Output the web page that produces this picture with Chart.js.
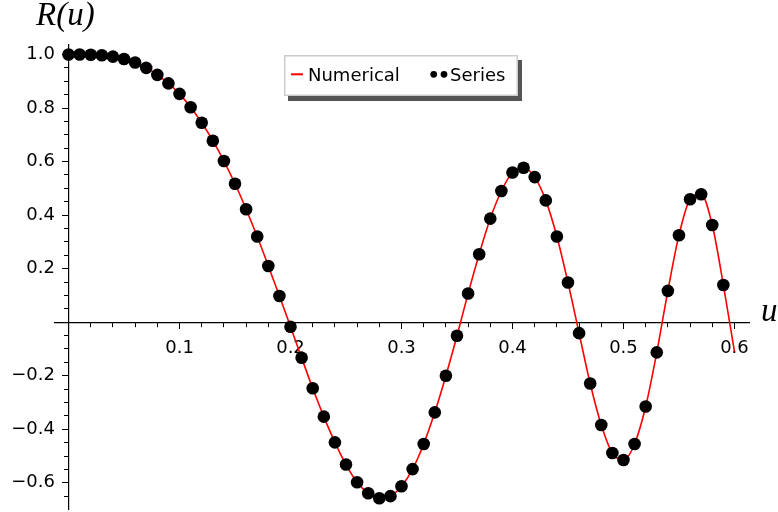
<!DOCTYPE html>
<html>
<head>
<meta charset="utf-8">
<script src="https://cdn.jsdelivr.net/npm/chart.js@4.4.0/dist/chart.umd.min.js"></script>
<style>
  html, body { margin: 0; padding: 0; background: #ffffff; overflow: hidden; }
  canvas { display: block; }
</style>
</head>
<body>
<canvas id="c" width="778" height="512"></canvas>
<script>
// ---- data ----
const seriesU = [0.00, 0.01, 0.02, 0.03, 0.04, 0.05, 0.06, 0.07, 0.08, 0.09,
                 0.10, 0.11, 0.12, 0.13, 0.14, 0.15, 0.16, 0.17, 0.18, 0.19,
                 0.20, 0.21, 0.22, 0.23, 0.24, 0.25, 0.26, 0.27, 0.28, 0.29,
                 0.30, 0.31, 0.32, 0.33, 0.34, 0.35, 0.36, 0.37, 0.38, 0.39,
                 0.40, 0.41, 0.42, 0.43, 0.44, 0.45, 0.46, 0.47, 0.48, 0.49,
                 0.50, 0.51, 0.52, 0.53, 0.54, 0.55, 0.56, 0.57, 0.58, 0.59];
const seriesR = [1.000, 1.000, 0.999, 0.997, 0.992, 0.983, 0.970, 0.950, 0.924, 0.892,
                 0.853, 0.803, 0.745, 0.678, 0.602, 0.517, 0.422, 0.320, 0.210, 0.098,
                 -0.017, -0.133, -0.247, -0.353, -0.449, -0.532, -0.598, -0.639, -0.658, -0.650,
                 -0.613, -0.549, -0.455, -0.337, -0.200, -0.051, 0.107, 0.254, 0.387, 0.490,
                 0.559, 0.577, 0.542, 0.455, 0.320, 0.148, -0.041, -0.229, -0.384, -0.489,
                 -0.515, -0.455, -0.315, -0.113, 0.117, 0.325, 0.459, 0.478, 0.363, 0.139];
const numericalU = [0.00, 0.01, 0.02, 0.03, 0.04, 0.05, 0.06, 0.07, 0.08, 0.09,
                    0.10, 0.11, 0.12, 0.13, 0.14, 0.15, 0.16, 0.17, 0.18, 0.19,
                    0.20, 0.21, 0.22, 0.23, 0.24, 0.25, 0.26, 0.27, 0.28, 0.29,
                    0.30, 0.31, 0.32, 0.33, 0.34, 0.35, 0.36, 0.37, 0.38, 0.39,
                    0.40, 0.41, 0.42, 0.43, 0.44, 0.45, 0.46, 0.47, 0.48, 0.49,
                    0.50, 0.51, 0.52, 0.53, 0.54, 0.55, 0.56, 0.57, 0.58, 0.59, 0.60];
const numericalR = [1.000, 1.000, 0.999, 0.997, 0.992, 0.983, 0.970, 0.950, 0.924, 0.892,
                    0.853, 0.803, 0.745, 0.678, 0.602, 0.517, 0.422, 0.320, 0.210, 0.098,
                    -0.017, -0.133, -0.247, -0.353, -0.449, -0.532, -0.598, -0.639, -0.658, -0.650,
                    -0.613, -0.549, -0.455, -0.337, -0.200, -0.051, 0.107, 0.254, 0.387, 0.490,
                    0.559, 0.577, 0.542, 0.455, 0.320, 0.148, -0.041, -0.229, -0.384, -0.489,
                    -0.515, -0.455, -0.315, -0.113, 0.117, 0.325, 0.459, 0.478, 0.363, 0.139, -0.110];
const seriesLabels = ['Numerical', 'Series'];
const axisLabelX = 'u';
const axisLabelY = 'R(u)';

// ---- axis ranges and tick steps ----
const X_MIN = -0.0122, X_MAX = 0.6131;
const Y_MIN = -0.698, Y_MAX = 1.0355;
const X_MINOR = 0.02, X_MAJOR = 0.1;
const Y_MINOR = 0.05, Y_MAJOR = 0.2;

const TICK_FONT = { family: 'DejaVu Sans', size: 18 };
const majorLabel = (v) => {
  if (Math.abs(v) < 1e-9) return '';
  const s = Math.abs(v).toFixed(1);
  return v < 0 ? '\u2212' + s : s;
};

const decor = {
  id: 'decor',
  afterDraw(chart) {
    const c = chart.ctx;
    c.save();
    // legend box with shadow
    c.fillStyle = '#555555';
    c.fillRect(288, 60, 234, 41);
    c.fillStyle = '#ffffff';
    c.fillRect(284, 55, 234, 41);
    c.strokeStyle = '#cccccc';
    c.lineWidth = 1.5;
    c.strokeRect(284.75, 55.75, 232.5, 39.5);
    // Numerical entry
    c.strokeStyle = '#ff0000';
    c.lineWidth = 2;
    c.beginPath();
    c.moveTo(291, 74.3);
    c.lineTo(303, 74.3);
    c.stroke();
    c.fillStyle = '#000000';
    c.font = '18px "DejaVu Sans"';
    c.textBaseline = 'alphabetic';
    c.textAlign = 'left';
    c.fillText(seriesLabels[0], 308, 80.7);
    // Series entry
    c.beginPath();
    c.arc(433.7, 74.3, 3.4, 0, Math.PI * 2);
    c.arc(444.0, 74.3, 3.4, 0, Math.PI * 2);
    c.fill();
    c.fillText(seriesLabels[1], 450, 80.7);
    // axis labels
    c.font = 'italic 33px "Liberation Serif"';
    c.fillText(axisLabelY, 36, 25);
    c.fillText(axisLabelX, 761, 321);
    c.restore();
  }
};

new Chart(document.getElementById('c'), {
  type: 'scatter',
  data: {
    datasets: [
      {
        label: seriesLabels[1],
        data: seriesU.map((u, i) => ({ x: u, y: seriesR[i] })),
        showLine: false,
        pointRadius: 6.3,
        pointHoverRadius: 6.3,
        pointBackgroundColor: '#000000',
        pointBorderWidth: 0,
        order: 0,
        clip: false,
        xAxisID: 'x', yAxisID: 'y'
      },
      {
        label: seriesLabels[0],
        data: numericalU.map((u, i) => ({ x: u, y: numericalR[i] })),
        showLine: true,
        borderColor: '#ff0000',
        borderWidth: 1.6,
        pointRadius: 0,
        cubicInterpolationMode: 'monotone',
        fill: false,
        order: 1,
        clip: false,
        xAxisID: 'x', yAxisID: 'y'
      }
    ]
  },
  options: {
    responsive: false,
    animation: false,
    events: [],
    layout: { autoPadding: false, padding: { left: 5, right: 29, top: 45, bottom: 3 } },
    plugins: { legend: { display: false }, tooltip: { enabled: false } },
    scales: {
      x: {
        type: 'linear', axis: 'x', position: { y: 0 }, min: X_MIN, max: X_MAX,
        ticks: { stepSize: X_MINOR, includeBounds: false, display: false, autoSkip: false },
        grid: { drawOnChartArea: false, tickLength: 4, tickColor: '#000', tickWidth: 1 },
        border: { display: true, color: '#000', width: 1.2 }
      },
      xMajor: {
        type: 'linear', axis: 'x', position: { y: 0 }, min: X_MIN, max: X_MAX,
        ticks: { stepSize: X_MAJOR, includeBounds: false, autoSkip: false, maxRotation: 0,
                 padding: 8, color: '#000', font: TICK_FONT, callback: majorLabel },
        grid: { drawOnChartArea: false, tickLength: 7, tickColor: '#000', tickWidth: 1 },
        border: { display: false },
        afterFit(scale) { scale.paddingLeft = 0; scale.paddingRight = 0; }
      },
      y: {
        type: 'linear', axis: 'y', position: { x: 0 }, min: Y_MIN, max: Y_MAX,
        ticks: { stepSize: Y_MINOR, includeBounds: false, display: false, autoSkip: false },
        grid: { drawOnChartArea: false, tickLength: 4, tickColor: '#000', tickWidth: 1 },
        border: { display: true, color: '#000', width: 1.2 }
      },
      yMajor: {
        type: 'linear', axis: 'y', position: { x: 0 }, min: Y_MIN, max: Y_MAX,
        ticks: { stepSize: Y_MAJOR, includeBounds: false, display: false, autoSkip: false },
        grid: { drawOnChartArea: false, tickLength: 7, tickColor: '#000', tickWidth: 1 },
        border: { display: false }
      },
      yLabels: {
        type: 'linear', axis: 'y', position: 'left', min: Y_MIN, max: Y_MAX,
        ticks: { stepSize: Y_MAJOR, includeBounds: false, autoSkip: false, padding: 0,
                 color: '#000', font: TICK_FONT, callback: majorLabel },
        grid: { display: false, drawTicks: false },
        border: { display: false },
        afterFit(scale) { scale.width = 50; scale.paddingTop = 0; scale.paddingBottom = 0; }
      }
    }
  },
  plugins: [decor]
});
</script>
</body>
</html>
